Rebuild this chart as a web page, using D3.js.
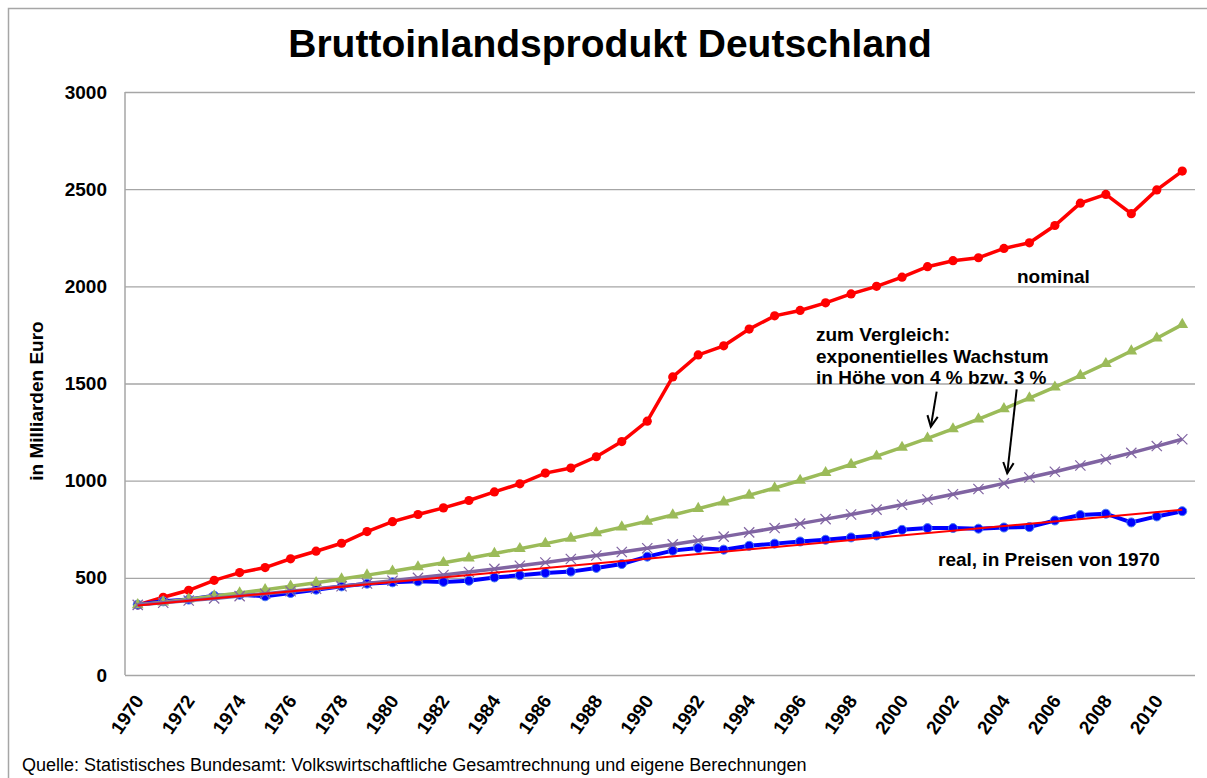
<!DOCTYPE html>
<html>
<head>
<meta charset="utf-8">
<script src="https://cdn.jsdelivr.net/npm/d3@7"></script>
<style>
  body { margin: 0; background: #fff; }
  text { font-family: Arial, 'Liberation Sans', sans-serif; fill: #000; }
</style>
</head>
<body>
<svg width="1207" height="778"></svg>
<script>
const svg = d3.select('svg');

// categories
const years = d3.range(1970, 2012);
const xTickYears = [1970, 1972, 1974, 1976, 1978, 1980, 1982, 1984, 1986, 1988, 1990,
  1992, 1994, 1996, 1998, 2000, 2002, 2004, 2006, 2008, 2010];
const yTicks = [0, 500, 1000, 1500, 2000, 2500, 3000];

// nominal GDP, bn Euro
const nominal = [360, 400, 436, 487, 527, 553, 598, 637, 678, 738,
  789, 826, 860, 898, 942, 984, 1039, 1065, 1123, 1201,
  1306, 1534, 1647, 1694, 1780, 1848, 1876, 1915, 1961, 2000,
  2047, 2101, 2132, 2147, 2195, 2224, 2313, 2428, 2473, 2374,
  2496, 2593];

// real GDP in 1970 prices
const real = [362, 379, 388, 408, 413, 405, 422, 439, 456, 470,
  477, 482, 479, 485, 502, 513, 525, 532, 551, 571,
  609, 640, 653, 645, 665, 676, 687, 696, 708, 718,
  747, 756, 756, 753, 759, 761, 795, 823, 830, 785,
  816, 843];

// comparison: 4 % growth
const growth4 = [361, 375, 390, 406, 422, 439, 457, 475, 494, 514,
  534, 556, 578, 601, 625, 650, 676, 703, 731, 761,
  791, 823, 856, 890, 925, 962, 1001, 1041, 1083, 1126,
  1171, 1218, 1266, 1317, 1370, 1425, 1481, 1541, 1602, 1667,
  1733, 1803];

// comparison: 3 % growth
const growth3 = [361, 372, 383, 394, 406, 418, 431, 444, 457, 471,
  485, 500, 515, 530, 546, 562, 579, 597, 615, 633,
  652, 672, 692, 712, 734, 756, 779, 802, 826, 851,
  876, 903, 930, 957, 986, 1016, 1046, 1078, 1110, 1143,
  1178, 1213];

// linear trend of real GDP (start / end)
const trendYears = [1970, 2011];
const trendValues = [358, 850];

const margin = { top: 92, right: 12, bottom: 103, left: 125 };
const width = 1207, height = 778;
const innerWidth = width - margin.left - margin.right;
const innerHeight = height - margin.top - margin.bottom;

// outer chart frame
svg.append('rect')
  .attr('x', 8.5).attr('y', 8.5)
  .attr('width', 1220).attr('height', 800)
  .attr('fill', 'none')
  .attr('stroke', '#a6a6a6')
  .attr('stroke-width', 1.5);

svg.append('text')
  .attr('x', 610).attr('y', 57)
  .attr('text-anchor', 'middle')
  .style('font-size', '39px')
  .style('font-weight', 'bold')
  .text('Bruttoinlandsprodukt Deutschland');

const g = svg.append('g')
  .attr('transform', `translate(${margin.left}, ${margin.top})`);

const xScale = d3.scaleLinear()
  .domain([1969.5, 2011.5])
  .range([0, innerWidth]);

const yScale = d3.scaleLinear()
  .domain([0, 3000])
  .range([innerHeight, 0]);

// gridlines + y labels
const yAxis = d3.axisLeft(yScale)
  .tickValues(yTicks)
  .tickFormat(d3.format('d'))
  .tickSize(-innerWidth)
  .tickPadding(18);

const yAxisGroup = g.append('g').call(yAxis);
yAxisGroup.selectAll('.domain').remove();
yAxisGroup.selectAll('line').attr('stroke', '#a6a6a6').attr('stroke-width', 1.3);
yAxisGroup.selectAll('text')
  .attr('fill', '#000')
  .style('font-size', '19px')
  .style('font-weight', 'bold');

g.append('line')
  .attr('x1', 0).attr('x2', 0)
  .attr('y1', 0).attr('y2', innerHeight)
  .attr('stroke', '#a6a6a6')
  .attr('stroke-width', 1.5);

// x labels, rotated
const xAxis = d3.axisBottom(xScale)
  .tickValues(xTickYears)
  .tickSize(0)
  .tickFormat(d3.format('d'));

const xAxisGroup = g.append('g')
  .attr('transform', `translate(0, ${innerHeight})`)
  .call(xAxis);
xAxisGroup.selectAll('.domain').remove();
xAxisGroup.selectAll('text')
  .attr('fill', '#000')
  .style('font-size', '19px')
  .style('font-weight', 'bold')
  .attr('y', 0)
  .attr('dy', '0.35em')
  .attr('text-anchor', 'end')
  .attr('transform', 'translate(1, 22) rotate(-55)');

g.append('text')
  .attr('transform', `translate(${43 - margin.left}, ${401 - margin.top}) rotate(-90)`)
  .attr('text-anchor', 'middle')
  .style('font-size', '19px')
  .style('font-weight', 'bold')
  .text('in Milliarden Euro');

const lineGen = d3.line()
  .x((d, i) => xScale(years[i]))
  .y(d => yScale(d));

// nominal
g.append('path')
  .attr('d', lineGen(nominal))
  .attr('fill', 'none').attr('stroke', '#ff0000').attr('stroke-width', 3.5);
g.selectAll('.dot-nominal').data(nominal).enter().append('circle')
  .attr('cx', (d, i) => xScale(years[i]))
  .attr('cy', d => yScale(d))
  .attr('r', 4.6)
  .attr('fill', '#ff0000');

// real
g.append('path')
  .attr('d', lineGen(real))
  .attr('fill', 'none').attr('stroke', '#0000ff').attr('stroke-width', 4);
g.selectAll('.dot-real').data(real).enter().append('circle')
  .attr('cx', (d, i) => xScale(years[i]))
  .attr('cy', d => yScale(d))
  .attr('r', 4.5)
  .attr('fill', '#0000ff')
  .attr('stroke', '#4a7ef0')
  .attr('stroke-width', 1);

// 4 %
g.append('path')
  .attr('d', lineGen(growth4))
  .attr('fill', 'none').attr('stroke', '#9bbb59').attr('stroke-width', 3.5);
g.selectAll('.tri').data(growth4).enter().append('path')
  .attr('transform', (d, i) => `translate(${xScale(years[i])}, ${yScale(d)})`)
  .attr('d', d3.symbol(d3.symbolTriangle, 60)())
  .attr('fill', '#9bbb59');

// 3 %
g.append('path')
  .attr('d', lineGen(growth3))
  .attr('fill', 'none').attr('stroke', '#8064a2').attr('stroke-width', 3.5);
g.selectAll('.cross').data(growth3).enter().append('path')
  .attr('transform', (d, i) => `translate(${xScale(years[i])}, ${yScale(d)})`)
  .attr('d', d3.symbol(d3.symbolX, 70)())
  .attr('fill', 'none')
  .attr('stroke', '#8064a2')
  .attr('stroke-width', 1.2);

// trend of real
g.append('path')
  .attr('d', d3.line().x((d, i) => xScale(trendYears[i])).y(d => yScale(d))(trendValues))
  .attr('fill', 'none').attr('stroke', '#ff0000').attr('stroke-width', 2);

// annotations
const arrows = [
  { x1: 2001.36, y1: 1458, x2: 2001.13, y2: 1278 },
  { x1: 2004.5, y1: 1470, x2: 2004.13, y2: 1038 }
];
arrows.forEach(a => {
  const x1 = xScale(a.x1), y1 = yScale(a.y1), x2 = xScale(a.x2), y2 = yScale(a.y2);
  const ang = Math.atan2(y2 - y1, x2 - x1);
  const len = 12, spread = 0.45;
  g.append('line')
    .attr('x1', x1).attr('y1', y1).attr('x2', x2).attr('y2', y2)
    .attr('stroke', '#000').attr('stroke-width', 2);
  g.append('path')
    .attr('d', `M${x2 - len * Math.cos(ang - spread)},${y2 - len * Math.sin(ang - spread)}` +
      `L${x2},${y2}L${x2 - len * Math.cos(ang + spread)},${y2 - len * Math.sin(ang + spread)}`)
    .attr('fill', 'none').attr('stroke', '#000').attr('stroke-width', 2);
});

const note = sel => sel.style('font-size', '19px').style('font-weight', 'bold');

svg.append('text').call(note).attr('x', 1017).attr('y', 283).text('nominal');

const noteLines = ['zum Vergleich:', 'exponentielles Wachstum', 'in Höhe von 4 % bzw. 3 %'];
svg.append('g').selectAll('text').data(noteLines).enter().append('text')
  .call(note)
  .attr('x', 816)
  .attr('y', (d, i) => 341 + i * 21.7)
  .text(d => d);

svg.append('text').call(note).attr('x', 938).attr('y', 566).text('real, in Preisen von 1970');

svg.append('text')
  .attr('x', 22).attr('y', 771)
  .style('font-size', '18px')
  .text('Quelle: Statistisches Bundesamt: Volkswirtschaftliche Gesamtrechnung und eigene Berechnungen');
</script>
</body>
</html>
